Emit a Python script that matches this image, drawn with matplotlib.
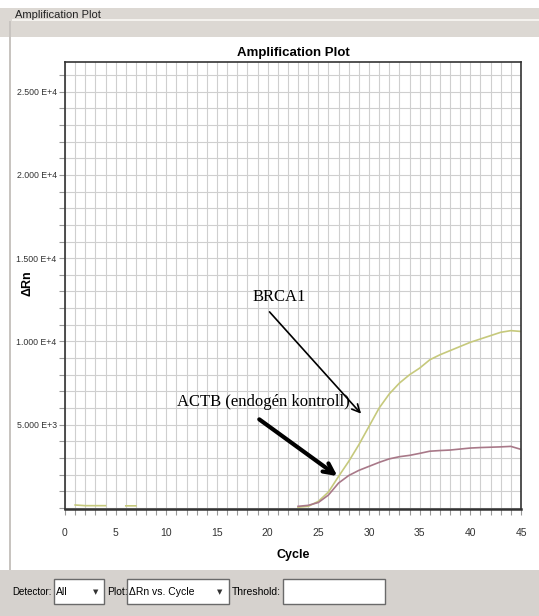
import numpy as np
import matplotlib.pyplot as plt
from matplotlib.patches import Rectangle
from matplotlib.ticker import FuncFormatter

# ciklusok es a DeltaRn ertekek (a kep alapjan becsulve)
cycles = np.arange(1, 46)

brca1 = [180, 140, 140, 140, np.nan, 130, 130, np.nan, np.nan, np.nan,
         np.nan, np.nan, np.nan, np.nan, np.nan, np.nan, np.nan, np.nan, np.nan, np.nan,
         np.nan, np.nan, 50, 100, 400, 960, 1900, 2800, 3800, 4900,
         6000, 6850, 7500, 8000, 8400, 8900, 9200, 9450, 9700, 9950,
         10150, 10350, 10550, 10650, 10600]

actb = [np.nan, np.nan, np.nan, np.nan, np.nan, np.nan, np.nan, np.nan, np.nan, np.nan,
        np.nan, np.nan, np.nan, np.nan, np.nan, np.nan, np.nan, np.nan, np.nan, np.nan,
        np.nan, np.nan, 100, 160, 330, 780, 1500, 1950, 2260, 2500,
        2740, 2950, 3080, 3160, 3280, 3410, 3450, 3480, 3540, 3600,
        3630, 3650, 3670, 3700, 3520]

y_labels = {5000: '5.000 E+3', 10000: '1.000 E+4', 15000: '1.500 E+4',
            20000: '2.000 E+4', 25000: '2.500 E+4'}

W, H = 539, 616
sans = ['Liberation Sans', 'DejaVu Sans']
serif = ['Liberation Serif', 'DejaVu Serif']


def fx(x):
    return x / W


def fy(y):
    return 1 - y / H


fig = plt.figure(figsize=(W / 100, H / 100), dpi=100)
fig.patch.set_facecolor('white')

# ablak keret (szurke savok)
fig.patches.append(Rectangle((0, fy(37)), 1, (37 - 8) / H, transform=fig.transFigure,
                             facecolor='#dcd8d3', edgecolor='none'))
fig.patches.append(Rectangle((fx(12), fy(21)), 1, 1.5 / H, transform=fig.transFigure,
                             facecolor='#f4f2ee', edgecolor='none'))
fig.patches.append(Rectangle((fx(9), fy(570)), 1.5 / W, (570 - 21) / H, transform=fig.transFigure,
                             facecolor='#c8c4c0', edgecolor='none'))
fig.patches.append(Rectangle((0, 0), 1, (616 - 570) / H, transform=fig.transFigure,
                             facecolor='#d6d2ce', edgecolor='none'))
fig.text(fx(15), fy(15), 'Amplification Plot', family=sans, fontsize=8,
         va='center', ha='left', color='#222222')

# also vezerlok
fig.text(fx(12), fy(592), 'Detector:', family=sans, fontsize=7, va='center')
fig.patches.append(Rectangle((fx(54), fy(604)), 50 / W, 25 / H, transform=fig.transFigure,
                             facecolor='white', edgecolor='#6a6a6a', lw=1))
fig.text(fx(56), fy(592), 'All', family=sans, fontsize=7.5, va='center')
fig.text(fx(96), fy(592), '\u25bc', fontsize=5, va='center', ha='center', color='#333333')
fig.text(fx(107), fy(592), 'Plot:', family=sans, fontsize=7.5, va='center')
fig.patches.append(Rectangle((fx(127), fy(604)), 102 / W, 25 / H, transform=fig.transFigure,
                             facecolor='white', edgecolor='#6a6a6a', lw=1))
fig.text(fx(129), fy(592), '\u0394Rn vs. Cycle', family=sans, fontsize=7.5, va='center')
fig.text(fx(220), fy(592), '\u25bc', fontsize=5, va='center', ha='center', color='#333333')
fig.text(fx(281), fy(592), 'Threshold:', family=sans, fontsize=7.5, va='center', ha='right')
fig.patches.append(Rectangle((fx(283), fy(604)), 102 / W, 25 / H, transform=fig.transFigure,
                             facecolor='white', edgecolor='#6a6a6a', lw=1))

# grafikon
ax = fig.add_axes([fx(65), fy(509), (521 - 65) / W, (509 - 62) / H])
ax.plot(cycles, brca1, color='#c6c97c', lw=1.2)
ax.plot(cycles, actb, color='#a87888', lw=1.2)

ax.set_xlim(0, 45)
ax.set_ylim(-60, 26780)
ax.set_xticks(range(0, 46, 5))
ax.set_xticks(range(0, 46), minor=True)
ax.set_yticks(list(y_labels.keys()))
ax.set_yticks(range(0, 26001, 1000), minor=True)
ax.yaxis.set_major_formatter(FuncFormatter(lambda v, p: y_labels.get(int(v), '')))
ax.grid(True, which='both', color='#cfcfcf', lw=0.8)
ax.set_axisbelow(True)
ax.tick_params(which='both', direction='out', length=4, color='#999999', width=0.8)
ax.tick_params(axis='x', which='major', pad=10, labelsize=7.5)
ax.tick_params(axis='y', which='major', pad=2, labelsize=6.3)
for lab in ax.get_xticklabels() + ax.get_yticklabels():
    lab.set_family(sans)
    lab.set_color('#333333')
for s in ax.spines.values():
    s.set_color('#333333')
    s.set_linewidth(1.2)
ax.spines['bottom'].set_linewidth(1.8)

ax.set_title('Amplification Plot', family=sans, fontsize=9.5, fontweight='bold', pad=4)
ax.set_xlabel('Cycle', family=sans, fontsize=9, fontweight='bold')
ax.set_ylabel('\u0394Rn', family=sans, fontsize=9, fontweight='bold')
ax.xaxis.set_label_coords(0.5, -0.09)
ax.yaxis.set_label_coords(-0.07, 0.505)

# feliratok nyilakkal
ax.annotate('', xy=(29.4, 5540), xytext=(20.0, 11900),
            arrowprops=dict(arrowstyle='->', color='black', lw=1.2, mutation_scale=14))
ax.text(18.5, 12680, 'BRCA1', family=serif, fontsize=12, va='center', ha='left')
ax.annotate('', xy=(27.1, 1820), xytext=(18.95, 5420),
            arrowprops=dict(arrowstyle='->', color='black', lw=3, mutation_scale=18))
ax.text(11.05, 6380, 'ACTB (endog\u00e9n kontroll)', family=serif, fontsize=12,
        va='center', ha='left')

plt.savefig('out.png', dpi=100)
